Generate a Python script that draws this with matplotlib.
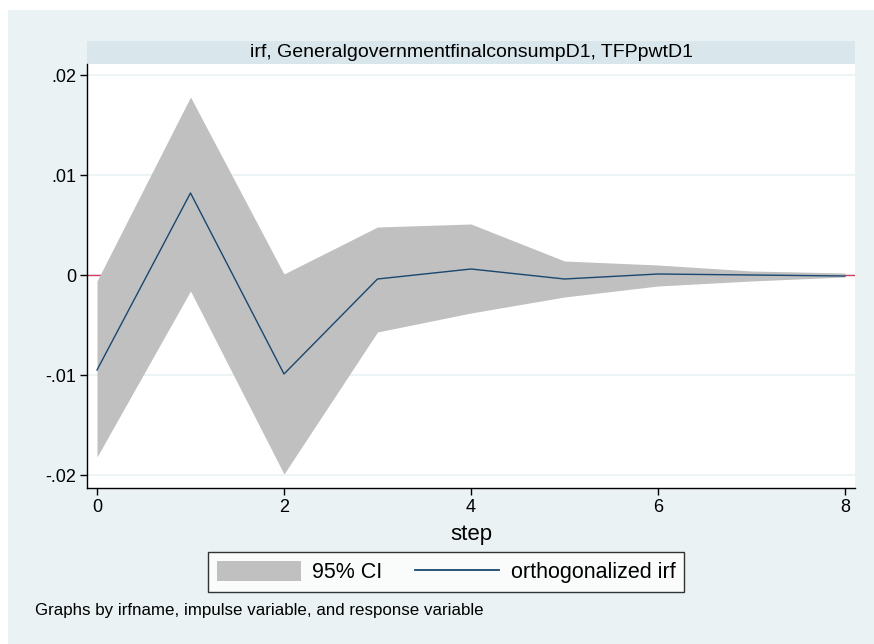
import matplotlib
matplotlib.use("Agg")
import matplotlib.pyplot as plt
from matplotlib.patches import Rectangle, Patch
from matplotlib.lines import Line2D

steps = [0, 1, 2, 3, 4, 5, 6, 7, 8]
irf = [-0.0095, 0.0082, -0.0099, -0.0004, 0.0006, -0.0004, 0.0001, 0.0000, -0.0001]
upper = [-0.0006, 0.0178, 0.0001, 0.0048, 0.0051, 0.0014, 0.0010, 0.0004, 0.0002]
lower = [-0.0182, -0.0016, -0.0199, -0.0057, -0.0038, -0.0022, -0.0011, -0.0006, -0.0002]
yticks = [-0.02, -0.01, 0, 0.01, 0.02]
ytick_labels = ["-.02", "-.01", "0", ".01", ".02"]
xticks = [0, 2, 4, 6, 8]
title = "irf, GeneralgovernmentfinalconsumpD1, TFPpwtD1"
note = "Graphs by irfname, impulse variable, and response variable"

plt.rcParams['font.family'] = ["Liberation Sans", "DejaVu Sans"]

W, H = 874, 644
fig = plt.figure(figsize=(W/100, H/100), dpi=100, facecolor="white")
bg = "#eaf2f3"
fig.patches.append(Rectangle((8/W, 0), 1 - 8/W, 1 - 10/H, transform=fig.transFigure,
                             facecolor=bg, edgecolor="none", zorder=-10))

# title strip
fig.patches.append(Rectangle((87/W, 1 - 64/H), (855-87)/W, 23/H, transform=fig.transFigure,
                             facecolor="#d9e6eb", edgecolor="none", zorder=-5))
fig.text((87+855)/2/W + 0.5/W, 1 - 52.5/H, title, ha="center", va="center", fontsize=14, color="black")

ax = fig.add_axes([87/W, 1 - 488/H, (855-87)/W, (488-64)/H])
ax.set_facecolor("white")

ypx_per = 400 / 0.04
ax.set_ylim(-0.02 - (488-475)/ypx_per, 0.02 + (75-64)/ypx_per)
xpx_per = (845-97)/8
ax.set_xlim(0 - (97-87)/xpx_per, 8 + (855-845)/xpx_per)

for y in yticks:
    ax.axhline(y, color="#eaf2f3", lw=1.2, zorder=0)
ax.axhline(0, color="#d04060", lw=1.0, zorder=0.5)
ax.fill_between(steps, lower, upper, color="#c0c0c0", lw=0, zorder=1)
ax.plot(steps, irf, color="#1a476f", lw=1.0, zorder=2)

ax.set_yticks(yticks)
ax.set_yticklabels(ytick_labels, fontsize=13)
ax.set_xticks(xticks)
ax.set_xticklabels([str(x) for x in xticks], fontsize=13)
ax.tick_params(axis="both", length=5, width=1, color="black", pad=3)
for s in ["top", "right"]:
    ax.spines[s].set_visible(False)
ax.spines["left"].set_linewidth(1)
ax.spines["bottom"].set_linewidth(1)
ax.set_xlabel("step", fontsize=16, labelpad=6)

handles = [Patch(facecolor="#c0c0c0", edgecolor="none"),
           Line2D([0], [0], color="#1a476f", lw=1.3)]
leg = fig.legend(handles, ["95% CI", "orthogonalized irf"], ncol=2,
                 loc="center", bbox_to_anchor=((200+692)/2/W, 1 - 572/H),
                 frameon=True, fancybox=False, fontsize=15.5, handlelength=3.9,
                 handleheight=1.05, columnspacing=1.5, borderpad=0.42,
                 borderaxespad=0, handletextpad=0.55)
leg.get_frame().set_edgecolor("black")
leg.get_frame().set_linewidth(1)

fig.text(35/W, 1 - 610/H, note, ha="left", va="center", fontsize=12.2)

fig.savefig("out.png", dpi=100, facecolor="white")
